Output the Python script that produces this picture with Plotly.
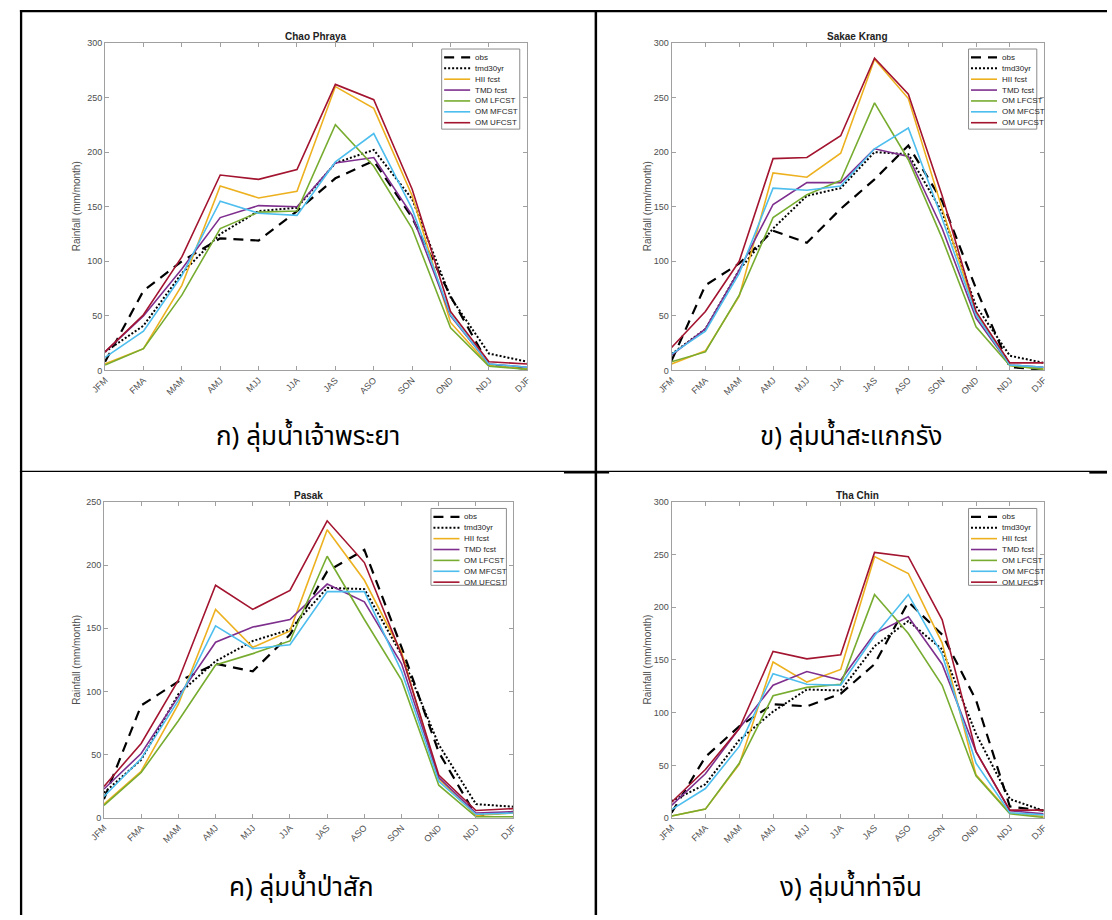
import plotly.graph_objects as go

# ---------------- data ----------------
seasons = ["JFM", "FMA", "MAM", "AMJ", "MJJ", "JJA", "JAS", "ASO", "SON", "OND", "NDJ", "DJF"]
series_names = ["obs", "tmd30yr", "HII fcst", "TMD fcst", "OM LFCST", "OM MFCST", "OM UFCST"]
basin_titles = ["Chao Phraya", "Sakae Krang", "Pasak", "Tha Chin"]
captions = ["ก) ลุ่มน้ำเจ้าพระยา", "ข) ลุ่มน้ำสะแกกรัง", "ค) ลุ่มน้ำป่าสัก", "ง) ลุ่มน้ำท่าจีน"]
y_max = [300, 300, 250, 300]
y_ticks_300 = [0, 50, 100, 150, 200, 250, 300]
y_ticks_250 = [0, 50, 100, 150, 200, 250]

# Chao Phraya
cp_obs = [8, 73, 100, 121, 119, 146, 176, 192, 140, 68, 5, 1.5]
cp_tmd30 = [17, 41, 89, 125, 146, 149, 190, 202, 157, 67, 15.5, 8]
cp_hii = [6, 20, 78, 169, 158, 164, 260, 240, 160, 44, 4.5, 1.5]
cp_tmdf = [17, 50, 93, 140, 151, 150, 190, 195, 142, 50, 6, 3]
cp_lf = [5, 20, 69, 130, 145, 146, 225, 187, 130, 39, 4, 1]
cp_mf = [12, 36, 87, 155, 144, 142, 191, 217, 148, 51, 6, 3]
cp_uf = [17, 51, 104, 179, 175, 184, 262, 248, 166, 54, 8, 6]

# Sakae Krang
sk_obs = [9, 78, 98, 128, 117, 148, 175, 206, 155, 75, 3, 1]
sk_tmd30 = [15, 38, 92, 130, 160, 167, 200, 198, 145, 59, 13.5, 7]
sk_hii = [6, 18, 68, 181, 177, 199, 285, 249, 148, 53, 4.5, 1.5]
sk_tmdf = [14, 38, 92, 152, 172, 172, 203, 196, 130, 48, 5, 3]
sk_lf = [8, 17, 69, 140, 161, 174, 245, 193, 121, 40, 4.5, 1]
sk_mf = [15, 36, 89, 167, 165, 169, 203, 222, 139, 51, 5, 3]
sk_uf = [21, 54, 100, 194, 195, 215, 286, 253, 160, 54, 7, 7]

# Pasak
pk_obs = [15, 89, 108, 122, 116, 145, 195, 212, 135, 52, 2, 5]
pk_tmd30 = [20, 46, 98, 124, 140, 149, 182, 181, 129, 58, 11, 9]
pk_hii = [11, 37, 90, 165, 135, 148, 228, 188, 131, 31, 2, 4]
pk_tmdf = [23, 51, 96, 139, 151, 157, 185, 171, 122, 32, 4, 5]
pk_lf = [10, 36, 77, 121, 130, 140, 207, 157, 109, 26, 1, 1]
pk_mf = [17, 47, 93, 152, 134, 137, 179, 179, 116, 29, 3, 4]
pk_uf = [25, 59, 109, 184, 165, 180, 235, 202, 129, 34, 6, 7.5]

# Tha Chin
tc_obs = [5, 58, 87, 108, 106, 118, 146, 205, 174, 112, 11, 7]
tc_tmd30 = [16, 32, 74, 101, 122, 121, 163, 187, 160, 80, 18, 7]
tc_hii = [2, 8.5, 51, 148, 129, 141, 248, 232, 166, 41, 5, 1.5]
tc_tmdf = [12, 42, 85, 126, 139, 131, 175, 191, 146, 63, 7, 4]
tc_lf = [2, 8.5, 52, 116, 124, 127, 212, 175, 126, 40, 4, 0.6]
tc_mf = [8, 28, 68, 137, 127, 126, 173, 212, 155, 52, 5, 3]
tc_uf = [15, 46, 85, 158, 151, 155, 252, 248, 188, 63, 7.5, 7.5]

basin_series = [
    [cp_obs, cp_tmd30, cp_hii, cp_tmdf, cp_lf, cp_mf, cp_uf],
    [sk_obs, sk_tmd30, sk_hii, sk_tmdf, sk_lf, sk_mf, sk_uf],
    [pk_obs, pk_tmd30, pk_hii, pk_tmdf, pk_lf, pk_mf, pk_uf],
    [tc_obs, tc_tmd30, tc_hii, tc_tmdf, tc_lf, tc_mf, tc_uf],
]

# ---------------- styles / layout ----------------
W, H = 1112, 920
styles = [
    dict(color="#000000", width=2.2, dash="10px,7px"),
    dict(color="#000000", width=2.0, dash="2px,2px"),
    dict(color="#EDB120", width=1.6, dash="solid"),
    dict(color="#7E2F8E", width=1.6, dash="solid"),
    dict(color="#77AC30", width=1.6, dash="solid"),
    dict(color="#4DBEEE", width=1.6, dash="solid"),
    dict(color="#A2142F", width=1.6, dash="solid"),
]

# pixel boxes of each axes: (left, right, top, bottom)
axes_px = [
    (91.7, 521.7, 38.3, 369.5),
    (668.6, 1047.5, 38.3, 369.5),
    (90.6, 507.3, 502.3, 822.0),
    (668.6, 1047.5, 502.3, 822.0),
]
legend_px = [  # left, right, top, bottom
    (434.5, 514.0, 44.5, 125.5),
    (971.0, 1040.5, 44.5, 125.5),
    (423.6, 500.4, 509.0, 586.7),
    (971.0, 1040.5, 509.0, 586.7),
]
ytitle_x_px = [62.7, 644.2, 63.0, 644.2]
caption_px = [(298, 437), (851, 437), (292, 893), (851, 893)]

AX_COL = "#a0a0a0"
TXT_COL = "#4d4d4d"
FONT = "Liberation Sans, Arial, Helvetica, sans-serif"
THAI_FONT = "Noto Sans Thai, Noto Sans Thai Looped, Loma, Garuda, Tlwg Typo, Sarabun, sans-serif"


def px_x(p):
    return p / W


def px_y(p):
    return 1 - p / H


fig = go.Figure()
shapes = []
annotations = []

for i in range(4):
    xa = "x" if i == 0 else f"x{i+1}"
    ya = "y" if i == 0 else f"y{i+1}"
    for j, name in enumerate(series_names):
        st = styles[j]
        fig.add_trace(go.Scatter(
            x=seasons, y=basin_series[i][j], mode="lines", name=name,
            line=dict(color=st["color"], width=st["width"], dash=st["dash"]),
            xaxis=xa, yaxis=ya, showlegend=False, cliponaxis=True,
        ))
    l, r, t, b = axes_px[i]
    xkey = "xaxis" if i == 0 else f"xaxis{i+1}"
    ykey = "yaxis" if i == 0 else f"yaxis{i+1}"
    fig.layout[xkey] = dict(
        domain=[px_x(l), px_x(r)], anchor=ya, type="category",
        range=[0, len(seasons) - 1], showline=True, linecolor=AX_COL, linewidth=1,
        mirror="ticks", ticks="inside", ticklen=4, tickcolor=AX_COL, tickwidth=1,
        tickangle=-45, tickfont=dict(family=FONT, size=9, color=TXT_COL),
        showgrid=False, zeroline=False, fixedrange=True,
    )
    fig.layout[ykey] = dict(
        domain=[px_y(b), px_y(t)], anchor=xa, range=[0, y_max[i]],
        tickvals=y_ticks_300 if y_max[i] == 300 else y_ticks_250,
        showline=True, linecolor=AX_COL, linewidth=1, mirror="ticks",
        ticks="inside", ticklen=4, tickcolor=AX_COL, tickwidth=1,
        tickfont=dict(family=FONT, size=9, color=TXT_COL),
        showgrid=False, zeroline=False, fixedrange=True,
    )
    # title
    annotations.append(dict(
        text=f"<b>{basin_titles[i]}</b>", x=px_x((l + r) / 2), y=px_y(t - 6.6),
        xref="paper", yref="paper", xanchor="center", yanchor="middle",
        showarrow=False, font=dict(family=FONT, size=10, color="#222222"),
    ))
    # y title
    annotations.append(dict(
        text="Rainfall (mm/month)", x=px_x(ytitle_x_px[i]), y=px_y((t + b) / 2),
        xref="paper", yref="paper", xanchor="center", yanchor="middle",
        textangle=-90, showarrow=False, font=dict(family=FONT, size=10, color=TXT_COL),
    ))
    # legend box
    ll, lr, lt, lb = legend_px[i]
    shapes.append(dict(type="rect", xref="paper", yref="paper",
                       x0=px_x(ll), x1=px_x(lr), y0=px_y(lb), y1=px_y(lt),
                       line=dict(color="#8c8c8c", width=1), fillcolor="white", layer="above"))
    for j, name in enumerate(series_names):
        yy = lt + 8.5 + j * 11.0
        st = styles[j]
        shapes.append(dict(type="line", xref="paper", yref="paper",
                           x0=px_x(ll + 2.5), x1=px_x(ll + 29), y0=px_y(yy), y1=px_y(yy),
                           line=dict(color=st["color"], width=st["width"], dash=st["dash"]),
                           layer="above"))
        annotations.append(dict(
            text=name, x=px_x(ll + 32), y=px_y(yy), xref="paper", yref="paper",
            xanchor="left", yanchor="middle", showarrow=False,
            font=dict(family=FONT, size=8, color="#262626"),
        ))
    # caption
    cx, cy = caption_px[i]
    annotations.append(dict(
        text=captions[i], x=px_x(cx), y=px_y(cy), xref="paper", yref="paper",
        xanchor="center", yanchor="middle", showarrow=False,
        font=dict(family=THAI_FONT, size=26, color="#000000"),
    ))

# table lines
def hline(y, x0, x1, w):
    shapes.append(dict(type="line", xref="paper", yref="paper", x0=px_x(x0), x1=px_x(x1),
                       y0=px_y(y), y1=px_y(y), line=dict(color="black", width=w)))


def vline(x, y0, y1, w):
    shapes.append(dict(type="line", xref="paper", yref="paper", x0=px_x(x), x1=px_x(x),
                       y0=px_y(y0), y1=px_y(y1), line=dict(color="black", width=w)))

hline(6.2, 5, 1112, 2.3)
vline(6.2, 5, 920, 2.3)
vline(591.5, 5, 920, 2.5)
hline(471.5, 5, 1112, 1.3)
hline(472.5, 559, 605, 2.5)
hline(472.5, 1094, 1112, 2.5)

fig.update_layout(
    width=W, height=H, margin=dict(l=0, r=0, t=0, b=0),
    paper_bgcolor="white", plot_bgcolor="white", showlegend=False,
    shapes=shapes, annotations=annotations,
)

fig.write_html(
    "out.html",
    config={"displayModeBar": False},
    post_script="document.body.style.margin='0px';document.body.style.overflow='hidden';",
)
